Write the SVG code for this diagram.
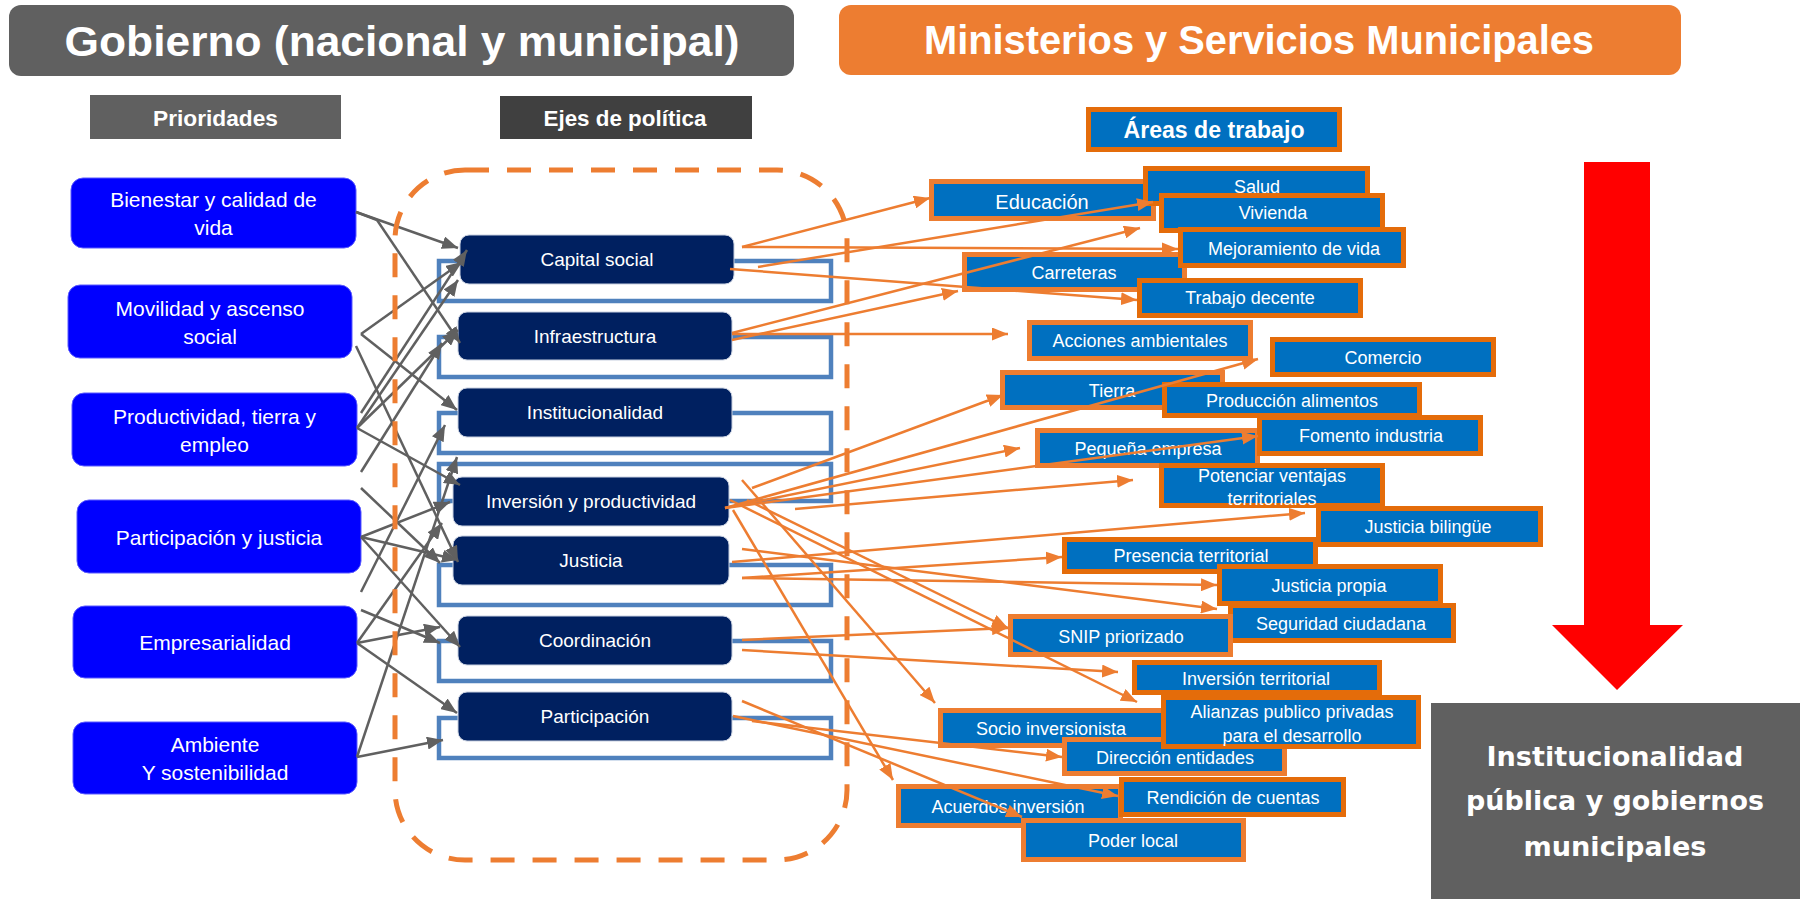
<svg xmlns="http://www.w3.org/2000/svg" width="1800" height="899" viewBox="0 0 1800 899">
<style>
text{font-family:"Liberation Sans",Arial,sans-serif;text-anchor:middle;fill:#fff}
.hdr text{font-weight:bold}
.pri rect{fill:#0000FF;stroke:#5a5aff;stroke-width:1}
.pri text{font-size:21px}
.axis rect{fill:#002060;stroke:#c8d0e0;stroke-width:1}
.axis text{font-size:19px}
.outl{fill:none;stroke:#4F81BD;stroke-width:4.5}
.area rect{fill:#0070C0;stroke:#ED7D31;stroke-width:5}
.area.dk rect{stroke:#E46C0A}
.area text{font-size:18px}
.big{font-size:26px;font-family:"DejaVu Sans",Verdana,sans-serif;font-weight:bold}
.g{stroke:#606060;stroke-width:2.5;fill:none;marker-end:url(#ag)}
.o{stroke:#ED7D31;stroke-width:2.5;fill:none;marker-end:url(#ao)}
</style>
<defs>
<marker id="ag" markerUnits="userSpaceOnUse" markerWidth="17" markerHeight="13" refX="16" refY="6.5" orient="auto"><path d="M0,0 L16,6.5 L0,13 z" fill="#606060"/></marker>
<marker id="ao" markerUnits="userSpaceOnUse" markerWidth="17" markerHeight="13" refX="16" refY="6.5" orient="auto"><path d="M0,0 L16,6.5 L0,13 z" fill="#ED7D31"/></marker>
</defs>
<rect width="1800" height="899" fill="#fff"/>

<g id="title-gobierno" class="hdr"><rect x="9" y="5" width="785" height="71" rx="12" fill="#606060"/><text x="402" y="56" font-size="42" textLength="675" lengthAdjust="spacingAndGlyphs">Gobierno (nacional y municipal)</text></g>
<g id="title-ministerios" class="hdr"><rect x="839" y="5" width="842" height="70" rx="12" fill="#ED7D31"/><text x="1259" y="54" font-size="40" textLength="670" lengthAdjust="spacingAndGlyphs">Ministerios y Servicios Municipales</text></g>
<g id="hdr-prioridades" class="hdr"><rect x="90" y="95" width="251" height="44" fill="#606060"/><text x="215.5" y="126" font-size="22" textLength="125" lengthAdjust="spacingAndGlyphs">Prioridades</text></g>
<g id="hdr-ejes" class="hdr"><rect x="500" y="96" width="252" height="43" fill="#404040"/><text x="625" y="126" font-size="22" textLength="163" lengthAdjust="spacingAndGlyphs">Ejes de política</text></g>
<g id="hdr-areas" class="hdr area dk"><rect x="1088.5" y="109.5" width="251" height="40"/><text x="1214" y="138" style="font-size:23px" textLength="181" lengthAdjust="spacingAndGlyphs">Áreas de trabajo</text></g>

<g id="pri-bienestar" class="pri"><rect x="71" y="178" width="285" height="70" rx="12"/><text x="213.5" y="207">Bienestar y calidad de</text><text x="213.5" y="235">vida</text></g>
<g id="pri-movilidad" class="pri"><rect x="68" y="285" width="284" height="73" rx="12"/><text x="210" y="316">Movilidad y ascenso</text><text x="210" y="344">social</text></g>
<g id="pri-productividad" class="pri"><rect x="72" y="393" width="285" height="73" rx="12"/><text x="214.5" y="424">Productividad, tierra y</text><text x="214.5" y="452">empleo</text></g>
<g id="pri-participacion" class="pri"><rect x="77" y="500" width="284" height="73" rx="12"/><text x="219" y="545">Participación y justicia</text></g>
<g id="pri-empresarialidad" class="pri"><rect x="73" y="606" width="284" height="72" rx="12"/><text x="215" y="650">Empresarialidad</text></g>
<g id="pri-ambiente" class="pri"><rect x="73" y="722" width="284" height="72" rx="12"/><text x="215" y="752">Ambiente</text><text x="215" y="780">Y sostenibilidad</text></g>

<g id="axis-outlines">
<rect class="outl" x="439" y="261" width="392" height="40"/>
<rect class="outl" x="439" y="337" width="392" height="40"/>
<rect class="outl" x="439" y="413" width="392" height="40"/>
<rect class="outl" x="439" y="464" width="392" height="37"/>
<rect class="outl" x="439" y="565" width="392" height="40"/>
<rect class="outl" x="439" y="641" width="392" height="40"/>
<rect class="outl" x="439" y="718" width="392" height="40"/>
</g>
<g id="eje-capital" class="axis"><rect x="460" y="235" width="274" height="49" rx="9"/><text x="597" y="266">Capital social</text></g>
<g id="eje-infra" class="axis"><rect x="458" y="312" width="274" height="48" rx="9"/><text x="595" y="343">Infraestructura</text></g>
<g id="eje-instit" class="axis"><rect x="458" y="388" width="274" height="49" rx="9"/><text x="595" y="419">Institucionalidad</text></g>
<g id="eje-inversion" class="axis"><rect x="453" y="477" width="276" height="49" rx="9"/><text x="591" y="508">Inversión y productividad</text></g>
<g id="eje-justicia" class="axis"><rect x="453" y="536" width="276" height="49" rx="9"/><text x="591" y="567">Justicia</text></g>
<g id="eje-coord" class="axis"><rect x="458" y="616" width="274" height="49" rx="9"/><text x="595" y="647">Coordinación</text></g>
<g id="eje-partic" class="axis"><rect x="458" y="692" width="274" height="49" rx="9"/><text x="595" y="723">Participación</text></g>

<g id="a-educacion" class="area"><rect x="931.5" y="181.5" width="222" height="37"/><text x="1042" y="209" style="font-size:20px">Educación</text></g>
<g id="a-salud" class="area dk"><rect x="1145.5" y="168.5" width="222" height="35"/><text x="1257" y="193">Salud</text></g>
<g id="a-vivienda" class="area dk"><rect x="1161.5" y="195.5" width="221" height="35"/><text x="1273" y="219">Vivienda</text></g>
<g id="a-carreteras" class="area"><rect x="964.5" y="254.5" width="220" height="35"/><text x="1074" y="279">Carreteras</text></g>
<g id="a-mejoramiento" class="area dk"><rect x="1180.5" y="229.5" width="223" height="36"/><text x="1294" y="255">Mejoramiento de vida</text></g>
<g id="a-trabajo" class="area dk"><rect x="1139.5" y="280.5" width="221" height="35"/><text x="1250" y="304">Trabajo decente</text></g>
<g id="a-acciones" class="area"><rect x="1029.5" y="322.5" width="221" height="36"/><text x="1140" y="347">Acciones ambientales</text></g>
<g id="a-comercio" class="area dk"><rect x="1272.5" y="339.5" width="221" height="35"/><text x="1383" y="364">Comercio</text></g>
<g id="a-tierra" class="area"><rect x="1002.5" y="372.5" width="220" height="35"/><text x="1112" y="397">Tierra</text></g>
<g id="a-produccion" class="area dk"><rect x="1164.5" y="384.5" width="255" height="31"/><text x="1292" y="407">Producción alimentos</text></g>
<g id="a-pequena" class="area"><rect x="1037.5" y="430.5" width="220" height="35"/><text x="1148" y="455">Pequeña empresa</text></g>
<g id="a-fomento" class="area dk"><rect x="1259.5" y="417.5" width="221" height="36"/><text x="1371" y="442">Fomento industria</text></g>
<g id="a-potenciar" class="area dk"><rect x="1161.5" y="465.5" width="221" height="40"/><text x="1272" y="482">Potenciar ventajas</text><text x="1272" y="505">territoriales</text></g>
<g id="a-presencia" class="area dk"><rect x="1064.5" y="539.5" width="251" height="32"/><text x="1191" y="562">Presencia territorial</text></g>
<g id="a-bilingue" class="area dk"><rect x="1318.5" y="508.5" width="222" height="36"/><text x="1428" y="533">Justicia bilingüe</text></g>
<g id="a-seguridad" class="area dk"><rect x="1230.5" y="605.5" width="223" height="35"/><text x="1341" y="630">Seguridad ciudadana</text></g>
<g id="a-propia" class="area dk"><rect x="1219.5" y="566.5" width="221" height="37"/><text x="1329" y="592">Justicia propia</text></g>
<g id="a-snip" class="area"><rect x="1010.5" y="616.5" width="220" height="38"/><text x="1121" y="643">SNIP priorizado</text></g>
<g id="a-invterritorial" class="area dk"><rect x="1134.5" y="662.5" width="245" height="30"/><text x="1256" y="685">Inversión territorial</text></g>
<g id="a-socio" class="area"><rect x="940.5" y="710.5" width="225" height="35"/><text x="1051" y="735">Socio inversionista</text></g>
<g id="a-direccion" class="area"><rect x="1064.5" y="739.5" width="220" height="34"/><text x="1175" y="764">Dirección entidades</text></g>
<g id="a-alianzas" class="area dk"><rect x="1163.5" y="697.5" width="255" height="49"/><text x="1292" y="718">Alianzas publico privadas</text><text x="1292" y="742">para el desarrollo</text></g>
<g id="a-acuerdos" class="area"><rect x="898.5" y="786.5" width="222" height="39"/><text x="1008" y="813">Acuerdos inversión</text></g>
<g id="a-rendicion" class="area dk"><rect x="1121.5" y="779.5" width="222" height="35"/><text x="1233" y="804">Rendición de cuentas</text></g>
<g id="a-poder" class="area"><rect x="1023.5" y="820.5" width="220" height="39"/><text x="1133" y="847">Poder local</text></g>

<g id="connectors">
<line class="g" x1="356" y1="212" x2="458" y2="248"/>
<line class="g" x1="356" y1="212" x2="377" y2="220" style="marker-end:none"/>
<line class="g" x1="377" y1="220" x2="460" y2="343"/>
<line class="g" x1="361" y1="334" x2="462" y2="262"/>
<line class="g" x1="361" y1="334" x2="457" y2="410"/>
<line class="g" x1="356" y1="346" x2="458" y2="562"/>
<line class="g" x1="361" y1="413" x2="467" y2="250"/>
<line class="g" x1="357" y1="428" x2="458" y2="280"/>
<line class="g" x1="357" y1="428" x2="458" y2="330"/>
<line class="g" x1="357" y1="428" x2="460" y2="485"/>
<line class="g" x1="361" y1="472" x2="442" y2="343"/>
<line class="g" x1="361" y1="488" x2="440" y2="563"/>
<line class="g" x1="361" y1="537" x2="450" y2="502"/>
<line class="g" x1="361" y1="537" x2="458" y2="560"/>
<line class="g" x1="361" y1="537" x2="460" y2="647"/>
<line class="g" x1="361" y1="592" x2="445" y2="425"/>
<line class="g" x1="361" y1="610" x2="440" y2="643"/>
<line class="g" x1="357" y1="643" x2="442" y2="523"/>
<line class="g" x1="357" y1="643" x2="440" y2="627"/>
<line class="g" x1="357" y1="643" x2="457" y2="713"/>
<line class="g" x1="357" y1="757" x2="457" y2="457"/>
<line class="g" x1="357" y1="757" x2="443" y2="740"/>

<line class="o" x1="742" y1="247" x2="930" y2="198"/>
<line class="o" x1="758" y1="267" x2="1153" y2="202"/>
<line class="o" x1="742" y1="247" x2="1178" y2="249"/>
<line class="o" x1="730" y1="269" x2="1137" y2="300"/>
<line class="o" x1="732" y1="333" x2="1140" y2="228"/>
<line class="o" x1="732" y1="340" x2="958" y2="291"/>
<line class="o" x1="732" y1="334" x2="1008" y2="334"/>
<line class="o" x1="752" y1="488" x2="1003" y2="395"/>
<line class="o" x1="725" y1="508" x2="1258" y2="359"/>
<line class="o" x1="725" y1="508" x2="1020" y2="448"/>
<line class="o" x1="725" y1="508" x2="1258" y2="436"/>
<line class="o" x1="795" y1="509" x2="1133" y2="480"/>
<line class="o" x1="742" y1="480" x2="935" y2="703"/>
<line class="o" x1="733" y1="510" x2="893" y2="780"/>
<line class="o" x1="730" y1="500" x2="1137" y2="702"/>
<line class="o" x1="747" y1="500" x2="1008" y2="628"/>
<line class="o" x1="742" y1="549" x2="1217" y2="609"/>
<line class="o" x1="732" y1="562" x2="1305" y2="513"/>
<line class="o" x1="742" y1="578" x2="1062" y2="557"/>
<line class="o" x1="742" y1="578" x2="1217" y2="585"/>
<line class="o" x1="742" y1="640" x2="1008" y2="628"/>
<line class="o" x1="742" y1="650" x2="1118" y2="672"/>
<line class="o" x1="742" y1="701" x2="1022" y2="817"/>
<line class="o" x1="733" y1="716" x2="1118" y2="796"/>
<line class="o" x1="752" y1="721" x2="1062" y2="757"/>
</g>

<g id="ejes-frame"><rect x="395" y="170" width="452" height="690" rx="70" fill="none" stroke="#ED7D31" stroke-width="5" stroke-dasharray="24 18"/></g>

<g id="flecha-roja"><polygon points="1584,162 1650,162 1650,625 1683,625 1617,690 1552,625 1584,625" fill="#FF0000"/></g>
<g id="institucionalidad"><rect x="1431" y="703" width="369" height="196" fill="#606060"/>
<text class="big" x="1615" y="766" textLength="257" lengthAdjust="spacingAndGlyphs">Institucionalidad</text>
<text class="big" x="1615" y="810" textLength="298" lengthAdjust="spacingAndGlyphs">pública y gobiernos</text>
<text class="big" x="1615" y="856" textLength="183" lengthAdjust="spacingAndGlyphs">municipales</text></g>
</svg>
